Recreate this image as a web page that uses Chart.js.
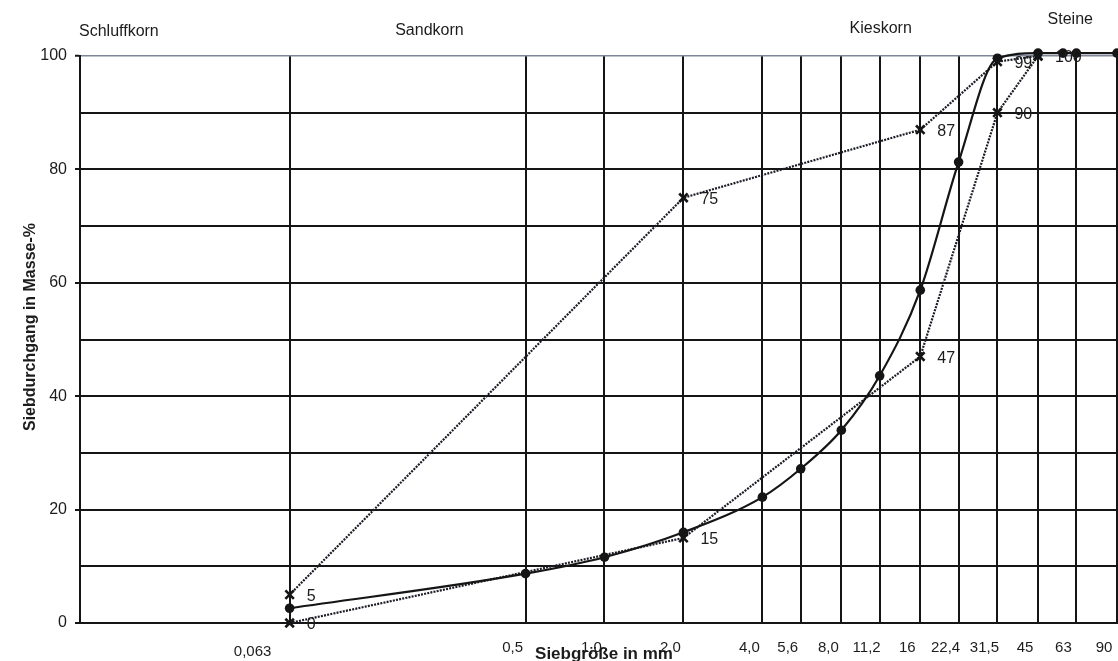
<!DOCTYPE html>
<html>
<head>
<meta charset="utf-8">
<title>Sieblinie</title>
<script src="https://cdn.jsdelivr.net/npm/chart.js@4/dist/chart.umd.min.js"></script>
<style>
  html, body { margin: 0; padding: 0; background: #fff; }
  #wrap { width: 1118px; height: 661px; }
</style>
</head>
<body>
<div id="wrap"><canvas id="c" width="1118" height="661"></canvas></div>
<script>
// Sieve sizes that get a grid line and a label (mm)
const sieveSizes  = [0.063, 0.5, 1, 2, 4, 5.6, 8, 11.2, 16, 22.4, 31.5, 45, 63, 90];
const sieveLabels = ['0,063', '0,5', '1,0', '2,0', '4,0', '5,6', '8,0', '11,2', '16', '22,4', '31,5', '45', '63', '90'];

// Measured grading curve
const curveSizes   = [0.063, 0.5, 1, 2, 4, 5.6, 8, 11.2, 16, 22.4, 31.5, 45, 56, 63, 90];
const curvePassing = [2.6, 8.7, 11.6, 16.0, 22.2, 27.2, 34.0, 43.6, 58.7, 81.3, 99.6, 100.5, 100.5, 100.5, 100.5];

// Grading envelope (upper and lower limit)
const boundSizes   = [0.063, 2, 16, 31.5, 45];
const upperPassing = [5, 75, 87, 99, 100];
const lowerPassing = [0, 15, 47, 90, 100];

// Labelled percentages on the y axis
const yLabelValues = [0, 20, 40, 60, 80, 100];

// Grain-size zones written above the plot
const zoneNames = ['Schluffkorn', 'Sandkorn', 'Kieskorn', 'Steine'];

const FONT = "'Liberation Sans', Arial, Helvetica, sans-serif";
const INK = '#151515';

const toPoints = (xs, ys) => xs.map((x, i) => ({ x: x, y: ys[i] }));

// Draws axis titles, zone names, sieve labels and the envelope values
const annotations = {
  id: 'annotations',
  afterDraw(chart) {
    const ctx = chart.ctx;
    const xs = chart.scales.x;
    const area = chart.chartArea;
    ctx.save();
    ctx.fillStyle = '#1c1c1c';

    // sieve size labels under the plot
    ctx.font = '15px ' + FONT;
    ctx.textAlign = 'center';
    ctx.textBaseline = 'alphabetic';
    sieveSizes.forEach((v, i) => {
      const px = xs.getPixelForValue(v);
      const first = i === 0;
      ctx.fillText(sieveLabels[i], px + (first ? -37 : -13), first ? 656 : 652);
    });

    // zone names above the plot
    ctx.font = '16px ' + FONT;
    ctx.textAlign = 'left';
    ctx.fillText(zoneNames[0], area.left - 1, 36);
    ctx.textAlign = 'center';
    ctx.fillText(zoneNames[1], xs.getPixelForValue(0.215), 35);
    ctx.fillText(zoneNames[2], xs.getPixelForValue(11.3), 33);
    ctx.fillText(zoneNames[3], xs.getPixelForValue(59.7), 24);

    // axis titles
    ctx.font = 'bold 17px ' + FONT;
    ctx.textAlign = 'center';
    ctx.fillText('Siebgröße in mm', 604, 659);
    ctx.font = 'bold 16px ' + FONT;
    ctx.save();
    ctx.translate(35, 327);
    ctx.rotate(-Math.PI / 2);
    ctx.textBaseline = 'alphabetic';
    ctx.fillText('Siebdurchgang in Masse-%', 0, 0);
    ctx.restore();

    // values next to the envelope points
    ctx.font = '16px ' + FONT;
    ctx.textAlign = 'left';
    ctx.textBaseline = 'middle';
    const done = new Set();
    chart.data.datasets.forEach((ds, di) => {
      if (!ds.showValues) return;
      const meta = chart.getDatasetMeta(di);
      meta.data.forEach((pt, i) => {
        const p = ds.data[i];
        const key = p.x + '|' + p.y;
        if (done.has(key)) return;
        done.add(key);
        ctx.fillText(String(p.y), pt.x + 17, pt.y + 2);
      });
    });
    ctx.restore();
  }
};

const envelopeStyle = {
  borderColor: '#1a1c26',
  backgroundColor: INK,
  borderWidth: 2.2,
  borderDash: [2, 1.2],
  pointStyle: 'crossRot',
  pointRadius: 6,
  pointBorderWidth: 2.6,
  pointBorderColor: INK,
  tension: 0,
  showValues: true,
  clip: false
};

new Chart(document.getElementById('c'), {
  type: 'line',
  data: {
    datasets: [
      {
        label: 'Sieblinie',
        data: toPoints(curveSizes, curvePassing),
        borderColor: INK,
        backgroundColor: INK,
        borderWidth: 2.2,
        pointStyle: 'circle',
        pointRadius: 4.8,
        pointBorderWidth: 0,
        cubicInterpolationMode: 'monotone',
        clip: false
      },
      Object.assign({ label: 'Obere Grenze', data: toPoints(boundSizes, upperPassing) }, envelopeStyle),
      Object.assign({ label: 'Untere Grenze', data: toPoints(boundSizes, lowerPassing) }, envelopeStyle)
    ]
  },
  options: {
    responsive: false,
    animation: false,
    devicePixelRatio: 1,
    layout: { autoPadding: false, padding: { left: 0, top: 56, right: 1, bottom: 0 } },
    plugins: { legend: { display: false }, tooltip: { enabled: false } },
    scales: {
      x: {
        type: 'logarithmic',
        min: 0.01,
        max: 90,
        afterBuildTicks: s => { s.ticks = sieveSizes.map(v => ({ value: v })); },
        afterFit: s => { s.height = 38; },
        ticks: { display: false },
        grid: { color: INK, lineWidth: 2, drawTicks: false },
        border: { display: true, color: INK, width: 2 }
      },
      y: {
        type: 'linear',
        min: 0,
        max: 100,
        afterBuildTicks: s => {
          const t = [];
          for (let v = 0; v <= 100; v += 10) t.push({ value: v });
          s.ticks = t;
        },
        afterFit: s => { s.width = 80; },
        ticks: {
          color: '#1c1c1c',
          font: { family: FONT, size: 16 },
          padding: 8,
          callback: v => (yLabelValues.includes(v) ? String(v) : '')
        },
        grid: {
          color: c => (c.tick && c.tick.value === 100 ? '#7d8799' : INK),
          lineWidth: c => (c.tick && c.tick.value === 100 ? 1.5 : 2),
          tickLength: 5,
          tickColor: c => (c.tick && yLabelValues.includes(c.tick.value) ? INK : 'rgba(0,0,0,0)'),
          tickWidth: 2
        },
        border: { display: true, color: INK, width: 2 }
      }
    }
  },
  plugins: [annotations]
});
</script>
</body>
</html>
